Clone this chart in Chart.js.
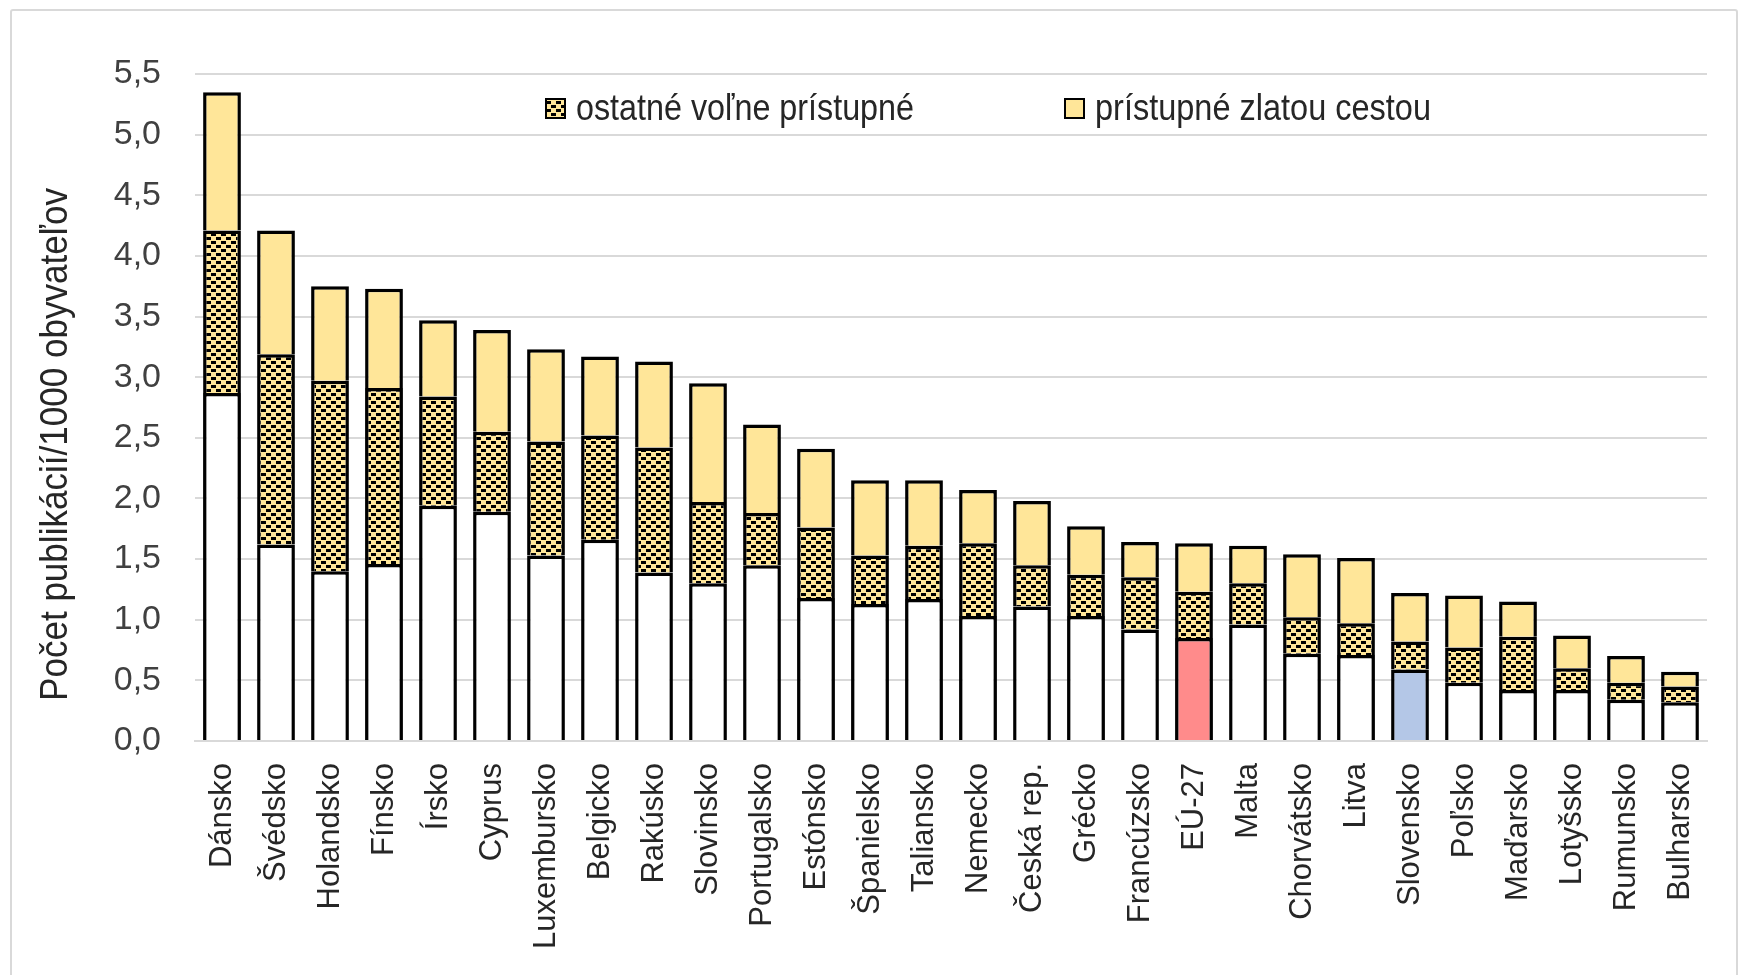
<!DOCTYPE html>
<html>
<head>
<meta charset="utf-8">
<script src="https://cdn.jsdelivr.net/npm/chart.js@4"></script>
<style>
  html, body { margin: 0; padding: 0; background: #fff; overflow: hidden; }
  #wrap { position: relative; width: 1739px; height: 975px; }
  #frame { position: absolute; left: 10px; top: 9px; width: 1724px; height: 1000px; border: 2px solid #d9d9d9; border-radius: 3px; }
  #chartBox { position: absolute; left: 0; top: 0; width: 1739px; height: 975px; }
</style>
</head>
<body>
<div id="wrap">
  <div id="frame"></div>
  <div id="chartBox"><canvas id="oaChart"></canvas></div>
</div>
<script>
// krajiny
const countries = ['Dánsko', 'Švédsko', 'Holandsko', 'Fínsko', 'Írsko', 'Cyprus', 'Luxembursko', 'Belgicko', 'Rakúsko', 'Slovinsko',
  'Portugalsko', 'Estónsko', 'Španielsko', 'Taliansko', 'Nemecko', 'Česká rep.', 'Grécko', 'Francúzsko', 'EÚ-27', 'Malta',
  'Chorvátsko', 'Litva', 'Slovensko', 'Poľsko', 'Maďarsko', 'Lotyšsko', 'Rumunsko', 'Bulharsko'];

// ostatné (nie voľne prístupné) publikácie
const closedValues = [2.87, 1.62, 1.40, 1.46, 1.94, 1.89, 1.53, 1.66, 1.39, 1.30,
  1.45, 1.18, 1.13, 1.17, 1.03, 1.11, 1.03, 0.92, 0.85, 0.96,
  0.72, 0.71, 0.59, 0.48, 0.42, 0.42, 0.34, 0.32];

// ostatné voľne prístupné
const otherOaValues = [1.34, 1.57, 1.57, 1.45, 0.90, 0.66, 0.94, 0.86, 1.03, 0.67,
  0.43, 0.58, 0.40, 0.44, 0.60, 0.34, 0.34, 0.43, 0.38, 0.34,
  0.30, 0.26, 0.23, 0.29, 0.44, 0.18, 0.14, 0.13];

// prístupné zlatou cestou
const goldValues = [1.14, 1.02, 0.78, 0.82, 0.63, 0.84, 0.76, 0.65, 0.71, 0.98,
  0.73, 0.65, 0.62, 0.54, 0.44, 0.53, 0.40, 0.29, 0.40, 0.31,
  0.52, 0.54, 0.40, 0.43, 0.29, 0.27, 0.22, 0.12];

const legendLabels = ['ostatné voľne prístupné', 'prístupné zlatou cestou'];
const yTitle = 'Počet publikácií/1000 obyvateľov';

const FONT = '"Liberation Sans", Arial, sans-serif';
const GOLD = '#FFE699';

function makePattern() {
  const c = document.createElement('canvas');
  c.width = 10; c.height = 8;
  const g = c.getContext('2d');
  g.fillStyle = GOLD;
  g.fillRect(0, 0, 10, 8);
  g.fillStyle = '#000';
  g.fillRect(1, 1, 5, 3);
  g.fillRect(6, 5, 4, 3);
  g.fillRect(0, 5, 1, 3);
  return g.createPattern(c, 'repeat');
}

function closedColors() {
  return countries.map(c => {
    if (c === 'EÚ-27') return '#FF8B8B';
    if (c === 'Slovensko') return '#B4C7E7';
    return '#FFFFFF';
  });
}

// text zuzeny na danu sirku (uzke pismo ako v povodnom grafe)
function narrowText(ctx, text, x, y, width) {
  const w = ctx.measureText(text).width;
  ctx.save();
  ctx.translate(x, y);
  ctx.scale(width / w, 1);
  ctx.fillText(text, 0, 0);
  ctx.restore();
}

const extrasPlugin = {
  id: 'extras',
  afterDraw(chart) {
    const ctx = chart.ctx;
    const pat = chart.data.datasets[1].backgroundColor;
    ctx.save();
    // legenda
    ctx.font = '36px ' + FONT;
    ctx.textBaseline = 'middle';
    const items = [
      { x: 546, fill: pat, text: legendLabels[0], w: 338 },
      { x: 1065, fill: GOLD, text: legendLabels[1], w: 336 }
    ];
    items.forEach(it => {
      ctx.fillStyle = it.fill;
      ctx.fillRect(it.x, 99, 19, 19);
      ctx.lineWidth = 2;
      ctx.strokeStyle = '#000';
      ctx.strokeRect(it.x, 99, 19, 19);
      ctx.fillStyle = '#262626';
      narrowText(ctx, it.text, it.x + 30, 110, it.w);
    });
    // nazov osi y
    ctx.translate(57, 445);
    ctx.rotate(-Math.PI / 2);
    ctx.textAlign = 'left';
    ctx.font = '38px ' + FONT;
    narrowText(ctx, yTitle, -256, 0, 513);
    ctx.restore();
  }
};

window.onload = function() {
  const ctx = document.getElementById('oaChart').getContext('2d');
  const pattern = makePattern();
  new Chart(ctx, {
    type: 'bar',
    data: {
      labels: countries,
      datasets: [
        { label: 'ostatné', data: closedValues, backgroundColor: closedColors() },
        { label: legendLabels[0], data: otherOaValues, backgroundColor: pattern },
        { label: legendLabels[1], data: goldValues, backgroundColor: GOLD }
      ]
    },
    options: {
      responsive: true,
      maintainAspectRatio: false,
      animation: false,
      layout: { padding: { top: 74, right: 32, left: 0, bottom: 0 } },
      datasets: {
        bar: { borderColor: '#000', borderWidth: 3.5, barPercentage: 0.70, categoryPercentage: 1.0 }
      },
      plugins: { legend: { display: false }, tooltip: { enabled: false } },
      scales: {
        x: {
          stacked: true,
          grid: { display: false },
          border: { display: true, color: '#d9d9d9', width: 2 },
          ticks: { color: '#262626', font: { family: FONT, size: 31 }, minRotation: 90, maxRotation: 90, padding: 14, autoSkip: false },
          afterFit: axis => { axis.height = 234; }
        },
        y: {
          stacked: true,
          min: 0,
          max: 5.5,
          grid: { color: '#d9d9d9', lineWidth: 2, drawTicks: false },
          border: { display: false },
          ticks: {
            stepSize: 0.5,
            padding: 34,
            color: '#404040',
            font: { family: FONT, size: 34 },
            callback: v => v.toFixed(1).replace('.', ',')
          },
          afterFit: axis => { axis.width = 195; }
        }
      }
    },
    plugins: [extrasPlugin]
  });
};
</script>
</body>
</html>
